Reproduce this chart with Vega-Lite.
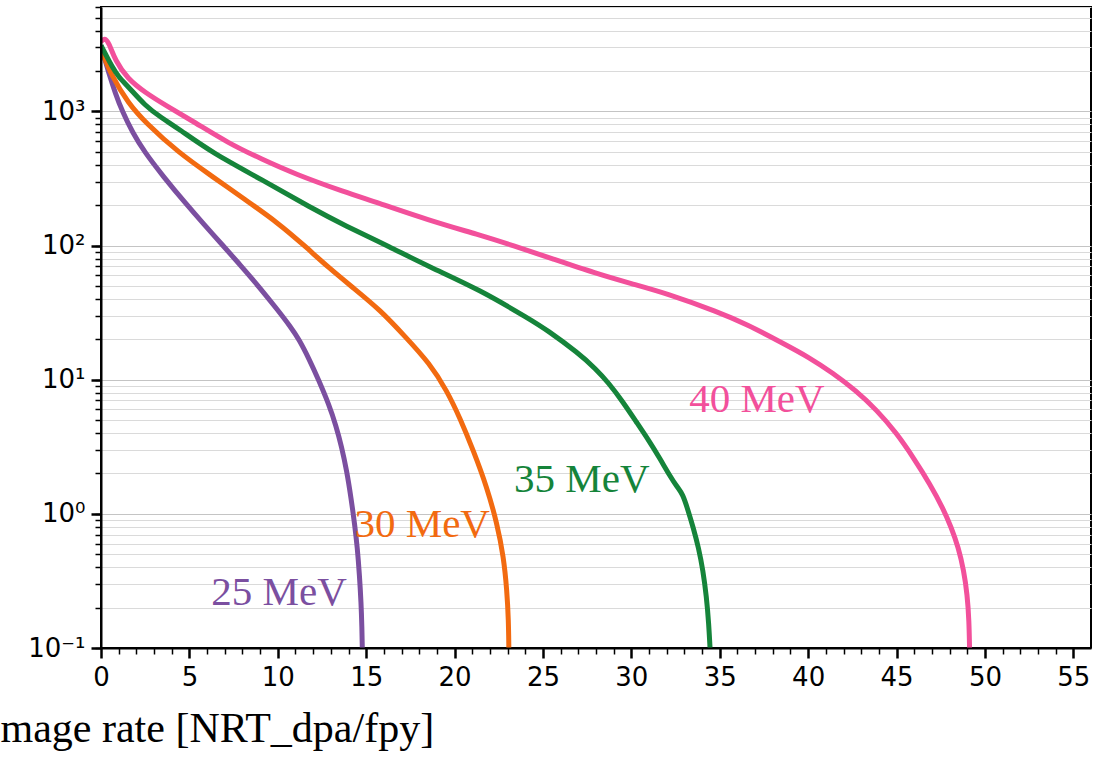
{
  "$schema": "https://vega.github.io/schema/vega-lite/v6.json",
  "autosize": {"type": "none"},
  "padding": {"left": 101, "top": 7, "right": 3, "bottom": 112},
  "width": 990,
  "height": 641,
  "background": "white",
  "config": {
    "view": {"stroke": "black", "strokeWidth": 2},
    "axis": {"domainColor": "black", "domainWidth": 2, "labelColor": "black", "labelFont": "DejaVu Sans", "labelFontSize": 26}
  },
  "datasets": {
    "curves": [
      {"s": "25 MeV", "x": 0, "y": 3100}, {"s": "25 MeV", "x": 0.2, "y": 2500}, {"s": "25 MeV", "x": 0.5, "y": 1820}, {"s": "25 MeV", "x": 0.8, "y": 1380}, {"s": "25 MeV", "x": 1.2, "y": 1000}, {"s": "25 MeV", "x": 1.8, "y": 690}, {"s": "25 MeV", "x": 2.45, "y": 500}, {"s": "25 MeV", "x": 3.5, "y": 330}, {"s": "25 MeV", "x": 4.8, "y": 205}, {"s": "25 MeV", "x": 5.8, "y": 145}, {"s": "25 MeV", "x": 6.9, "y": 100}, {"s": "25 MeV", "x": 7.9, "y": 71}, {"s": "25 MeV", "x": 8.9, "y": 50}, {"s": "25 MeV", "x": 10.0, "y": 33}, {"s": "25 MeV", "x": 10.7, "y": 25}, {"s": "25 MeV", "x": 11.2, "y": 20}, {"s": "25 MeV", "x": 11.8, "y": 14}, {"s": "25 MeV", "x": 12.3, "y": 10}, {"s": "25 MeV", "x": 12.9, "y": 6.5}, {"s": "25 MeV", "x": 13.3, "y": 4.5}, {"s": "25 MeV", "x": 13.6, "y": 3.2}, {"s": "25 MeV", "x": 13.9, "y": 2.1}, {"s": "25 MeV", "x": 14.15, "y": 1.3}, {"s": "25 MeV", "x": 14.35, "y": 0.83}, {"s": "25 MeV", "x": 14.5, "y": 0.56}, {"s": "25 MeV", "x": 14.62, "y": 0.35}, {"s": "25 MeV", "x": 14.71, "y": 0.22}, {"s": "25 MeV", "x": 14.76, "y": 0.14}, {"s": "25 MeV", "x": 14.78, "y": 0.1},
      {"s": "30 MeV", "x": 0, "y": 2900}, {"s": "30 MeV", "x": 0.6, "y": 1830}, {"s": "30 MeV", "x": 1.55, "y": 1150}, {"s": "30 MeV", "x": 2.5, "y": 830}, {"s": "30 MeV", "x": 4.4, "y": 490}, {"s": "30 MeV", "x": 6.26, "y": 330}, {"s": "30 MeV", "x": 8.15, "y": 220}, {"s": "30 MeV", "x": 10.0, "y": 148}, {"s": "30 MeV", "x": 11.5, "y": 100}, {"s": "30 MeV", "x": 12.9, "y": 68}, {"s": "30 MeV", "x": 14.3, "y": 48}, {"s": "30 MeV", "x": 15.8, "y": 33}, {"s": "30 MeV", "x": 17.2, "y": 21}, {"s": "30 MeV", "x": 18.6, "y": 13.2}, {"s": "30 MeV", "x": 19.56, "y": 8.3}, {"s": "30 MeV", "x": 20.3, "y": 5.2}, {"s": "30 MeV", "x": 21.07, "y": 2.95}, {"s": "30 MeV", "x": 21.83, "y": 1.58}, {"s": "30 MeV", "x": 22.4, "y": 0.85}, {"s": "30 MeV", "x": 22.77, "y": 0.48}, {"s": "30 MeV", "x": 22.96, "y": 0.27}, {"s": "30 MeV", "x": 23.05, "y": 0.16}, {"s": "30 MeV", "x": 23.07, "y": 0.1},
      {"s": "35 MeV", "x": 0, "y": 3100}, {"s": "35 MeV", "x": 0.3, "y": 2600}, {"s": "35 MeV", "x": 0.6, "y": 2190}, {"s": "35 MeV", "x": 1.0, "y": 1800}, {"s": "35 MeV", "x": 1.5, "y": 1550}, {"s": "35 MeV", "x": 2.5, "y": 1100}, {"s": "35 MeV", "x": 3.4, "y": 900}, {"s": "35 MeV", "x": 4.4, "y": 740}, {"s": "35 MeV", "x": 6.3, "y": 490}, {"s": "35 MeV", "x": 9.1, "y": 310}, {"s": "35 MeV", "x": 11.9, "y": 190}, {"s": "35 MeV", "x": 13.8, "y": 141}, {"s": "35 MeV", "x": 16.3, "y": 98}, {"s": "35 MeV", "x": 18.6, "y": 69}, {"s": "35 MeV", "x": 21.4, "y": 47}, {"s": "35 MeV", "x": 24.3, "y": 28}, {"s": "35 MeV", "x": 25.2, "y": 23.6}, {"s": "35 MeV", "x": 27.0, "y": 15.8}, {"s": "35 MeV", "x": 28.0, "y": 12}, {"s": "35 MeV", "x": 28.7, "y": 9.5}, {"s": "35 MeV", "x": 29.5, "y": 6.9}, {"s": "35 MeV", "x": 30.3, "y": 4.8}, {"s": "35 MeV", "x": 31.0, "y": 3.5}, {"s": "35 MeV", "x": 31.6, "y": 2.6}, {"s": "35 MeV", "x": 32.2, "y": 1.9}, {"s": "35 MeV", "x": 32.6, "y": 1.58}, {"s": "35 MeV", "x": 32.9, "y": 1.41}, {"s": "35 MeV", "x": 33.2, "y": 1.07}, {"s": "35 MeV", "x": 33.5, "y": 0.79}, {"s": "35 MeV", "x": 33.8, "y": 0.56}, {"s": "35 MeV", "x": 34.05, "y": 0.38}, {"s": "35 MeV", "x": 34.25, "y": 0.24}, {"s": "35 MeV", "x": 34.38, "y": 0.15}, {"s": "35 MeV", "x": 34.45, "y": 0.1},
      {"s": "40 MeV", "x": 0, "y": 3300}, {"s": "40 MeV", "x": 0.2, "y": 3550}, {"s": "40 MeV", "x": 0.45, "y": 3250}, {"s": "40 MeV", "x": 0.8, "y": 2400}, {"s": "40 MeV", "x": 1.5, "y": 1750}, {"s": "40 MeV", "x": 2.5, "y": 1380}, {"s": "40 MeV", "x": 3.7, "y": 1100}, {"s": "40 MeV", "x": 5.3, "y": 830}, {"s": "40 MeV", "x": 7.2, "y": 580}, {"s": "40 MeV", "x": 9.1, "y": 440}, {"s": "40 MeV", "x": 11.0, "y": 340}, {"s": "40 MeV", "x": 13.8, "y": 250}, {"s": "40 MeV", "x": 15.6, "y": 210}, {"s": "40 MeV", "x": 18.5, "y": 155}, {"s": "40 MeV", "x": 21.4, "y": 120}, {"s": "40 MeV", "x": 23.3, "y": 100}, {"s": "40 MeV", "x": 25.5, "y": 80}, {"s": "40 MeV", "x": 28.0, "y": 62}, {"s": "40 MeV", "x": 30.0, "y": 52}, {"s": "40 MeV", "x": 32.0, "y": 44}, {"s": "40 MeV", "x": 34.9, "y": 32}, {"s": "40 MeV", "x": 36.5, "y": 26}, {"s": "40 MeV", "x": 38.6, "y": 18.6}, {"s": "40 MeV", "x": 40.0, "y": 14.8}, {"s": "40 MeV", "x": 41.4, "y": 11.2}, {"s": "40 MeV", "x": 42.7, "y": 8.3}, {"s": "40 MeV", "x": 43.9, "y": 5.9}, {"s": "40 MeV", "x": 45.0, "y": 4.0}, {"s": "40 MeV", "x": 46.0, "y": 2.57}, {"s": "40 MeV", "x": 46.9, "y": 1.66}, {"s": "40 MeV", "x": 47.6, "y": 1.12}, {"s": "40 MeV", "x": 48.1, "y": 0.79}, {"s": "40 MeV", "x": 48.5, "y": 0.56}, {"s": "40 MeV", "x": 48.8, "y": 0.38}, {"s": "40 MeV", "x": 49.0, "y": 0.25}, {"s": "40 MeV", "x": 49.1, "y": 0.16}, {"s": "40 MeV", "x": 49.13, "y": 0.1}
    ],
    "labels": [
      {"s": "25 MeV", "x": 10.07, "y": 0.209},
      {"s": "30 MeV", "x": 18.17, "y": 0.673},
      {"s": "35 MeV", "x": 27.2, "y": 1.46},
      {"s": "40 MeV", "x": 37.1, "y": 5.77}
    ]
  },
  "resolve": {"axis": {"x": "independent", "y": "independent"}},
  "layer": [
    {
      "data": {"name": "labels"},
      "mark": {"type": "text", "font": "Liberation Serif", "fontSize": 41, "opacity": 0},
      "encoding": {
        "x": {
          "field": "x", "type": "quantitative",
          "scale": {"domain": [0, 56], "nice": false, "zero": false},
          "axis": {
            "orient": "bottom", "zindex": 2,
            "values": [1,2,3,4,6,7,8,9,11,12,13,14,16,17,18,19,21,22,23,24,26,27,28,29,31,32,33,34,36,37,38,39,41,42,43,44,46,47,48,49,51,52,53,54],
            "labels": false, "domain": false, "grid": false,
            "ticks": true, "tickSize": 6, "tickWidth": 1.5, "tickColor": "#000000", "tickOpacity": 1,
            "title": null
          }
        },
        "y": {
          "field": "y", "type": "quantitative",
          "scale": {"type": "log", "domain": [0.1, 6000], "nice": false},
          "axis": {
            "orient": "left", "zindex": 0,
            "values": [0.1,0.2,0.3,0.4,0.5,0.6,0.7,0.8,0.9,1,2,3,4,5,6,7,8,9,10,20,30,40,50,60,70,80,90,100,200,300,400,500,600,700,800,900,1000,2000,3000,4000,5000,6000],
            "labels": false, "domain": false,
            "grid": true,
            "gridColor": {"condition": {"test": "indexof([0.1,1,10,100,1000], datum.value) >= 0", "value": "#c4c4c4"}, "value": "#dadada"},
            "gridWidth": 1.2,
            "ticks": true, "tickSize": 6, "tickWidth": 1.5, "tickColor": "#000000", "tickOpacity": 1,
            "title": null
          }
        },
        "text": {"field": "s"}
      }
    },
    {
      "data": {"name": "curves"},
      "mark": {"type": "line", "strokeWidth": 5, "interpolate": "basis", "clip": true},
      "encoding": {
        "x": {
          "field": "x", "type": "quantitative",
          "scale": {"domain": [0, 56], "nice": false, "zero": false},
          "axis": {
            "orient": "bottom", "zindex": 2,
            "values": [0, 5, 10, 15, 20, 25, 30, 35, 40, 45, 50, 55],
            "labelFlush": false,
            "grid": false,
            "ticks": true, "tickSize": 10, "tickWidth": 2.5, "tickColor": "#000000", "tickOpacity": 1,
            "labelPadding": 6,
            "title": "mage rate [NRT_dpa/fpy]",
            "titleFont": "Liberation Serif", "titleFontSize": 42, "titleFontWeight": "normal", "titleColor": "black",
            "titleAlign": "left", "titleAnchor": "start", "titleBaseline": "alphabetic",
            "titleX": -101, "titleY": 93
          }
        },
        "y": {
          "field": "y", "type": "quantitative",
          "scale": {"type": "log", "domain": [0.1, 6000], "nice": false},
          "axis": {
            "orient": "left", "zindex": 2,
            "values": [0.1, 1, 10, 100, 1000],
            "labelExpr": "datum.value == 0.1 ? '10⁻¹' : datum.value == 1 ? '10⁰' : datum.value == 10 ? '10¹' : datum.value == 100 ? '10²' : '10³'",
            "labelFlush": false,
            "grid": false,
            "ticks": true, "tickSize": 10, "tickWidth": 2.5, "tickColor": "#000000", "tickOpacity": 1,
            "labelPadding": 6,
            "title": null
          }
        },
        "color": {
          "field": "s", "type": "nominal",
          "scale": {"domain": ["25 MeV", "30 MeV", "35 MeV", "40 MeV"], "range": ["#7B4FA0", "#F26A10", "#15843A", "#F2509B"]},
          "legend": null
        },
        "detail": {"field": "s"}
      }
    },
    {
      "data": {"name": "labels"},
      "mark": {"type": "text", "font": "Liberation Serif", "fontSize": 41, "align": "center", "baseline": "alphabetic"},
      "encoding": {
        "x": {"field": "x", "type": "quantitative", "axis": null},
        "y": {"field": "y", "type": "quantitative", "axis": null},
        "text": {"field": "s"},
        "color": {"field": "s", "type": "nominal", "legend": null}
      }
    }
  ]
}
